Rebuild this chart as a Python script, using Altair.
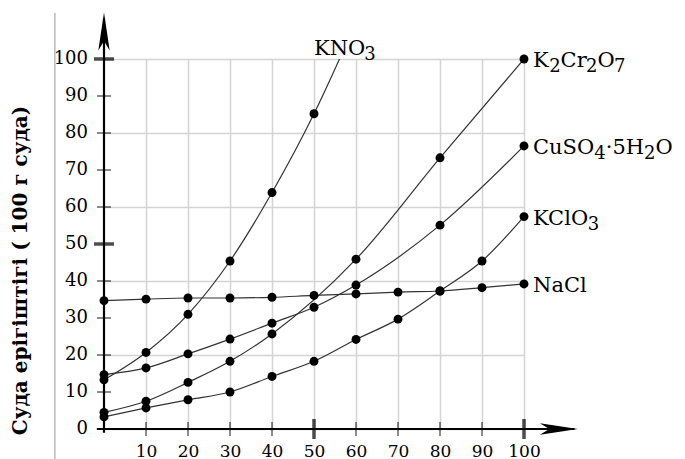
import altair as alt
import pandas as pd

# ---- data ----
temps = [0, 10, 20, 30, 40, 50, 60, 70, 80, 90, 100]
nacl = [34.7, 35.1, 35.4, 35.4, 35.6, 36.1, 36.5, 37.0, 37.3, 38.2, 39.2]
kclo3 = [3.3, 5.7, 7.9, 10.0, 14.2, 18.3, 24.2, 29.7, 37.3, 45.4, 57.4]
cuso4_t = [0, 10, 20, 30, 40, 50, 60, 80, 100]
cuso4 = [14.7, 16.5, 20.3, 24.3, 28.6, 32.9, 38.9, 55.1, 76.5]
k2cr2o7_t = [0, 10, 20, 30, 40, 60, 80, 100]
k2cr2o7 = [4.5, 7.5, 12.6, 18.3, 25.7, 45.9, 73.3, 100.0]
kno3_t = [0, 10, 20, 30, 40, 50, 60]
kno3 = [13.3, 20.7, 31.0, 45.4, 63.9, 85.2, 110.0]

series_names = ["KNO3", "K2Cr2O7", "CuSO4", "KClO3", "NaCl"]
series_t = [kno3_t, k2cr2o7_t, cuso4_t, temps, temps]
series_v = [kno3, k2cr2o7, cuso4, kclo3, nacl]

# label pieces: (text, is_subscript)
label_parts = {
    "K2Cr2O7": [("K", 0), ("2", 1), ("Cr", 0), ("2", 1), ("O", 0), ("7", 1)],
    "CuSO4": [("CuSO", 0), ("4", 1), ("·5H", 0), ("2", 1), ("O", 0)],
    "KClO3": [("KClO", 0), ("3", 1)],
    "NaCl": [("NaCl", 0)],
    "KNO3": [("KNO", 0), ("3", 1)],
}
kno3_label_at = (50, 101)

x_ticks = [10, 20, 30, 40, 50, 60, 70, 80, 90, 100]
y_ticks = [0, 10, 20, 30, 40, 50, 60, 70, 80, 90, 100]
minor_x = [10, 20, 30, 40, 60, 70, 80, 90]
minor_y = [0, 10, 20, 30, 40, 60, 70, 80, 90]
major_ticks = [50, 100]
y_title = "Суда ерігіштігі ( 100 г суда)"

WIDTH, HEIGHT = 420, 370
PX_PER_UNIT = WIDTH / 100.0
SERIF = "DejaVu Serif"
MAIN_SIZE, SUB_SIZE = 21, 18
# approximate advance widths of DejaVu Serif glyphs (in em)
EM = {"K": 0.770, "C": 0.735, "r": 0.478, "O": 0.786, "u": 0.710, "S": 0.687,
      "H": 0.872, "N": 0.837, "a": 0.602, "l": 0.320, "·": 0.318}
DIGIT = 0.636


def text_width(s, size):
    return sum(EM.get(ch, DIGIT if ch.isdigit() else 0.6) for ch in s) * size


rows = []
for name, ts, vs in zip(series_names, series_t, series_v):
    for t, v in zip(ts, vs):
        rows.append({"s": name, "t": t, "v": v})
df = pd.DataFrame(rows)

seg_rows = []
for name, ts, vs in zip(series_names, series_t, series_v):
    if name == "KNO3":
        at, av, start = kno3_label_at[0], kno3_label_at[1], 0.0
    else:
        at, av, start = ts[-1], vs[-1], 9.0
    off = start
    for txt, sub in label_parts[name]:
        size = SUB_SIZE if sub else MAIN_SIZE
        seg_rows.append({"txt": txt, "sub": sub, "t": at + off / PX_PER_UNIT,
                         "v": av, "top": name == "KNO3"})
        off += text_width(txt, size)
seg_df = pd.DataFrame(seg_rows)

xs = alt.Scale(domain=[0, 100], nice=False)
ys = alt.Scale(domain=[0, 100], nice=False)

x_axis = alt.Axis(values=x_ticks, grid=True, domain=False, title=None, ticks=False,
                  gridColor="#d4d4d4", gridWidth=1.5,
                  labelFont=SERIF, labelFontSize=17, labelColor="black",
                  labelPadding=14, labelOverlap=False, labelFlush=False)
y_axis = alt.Axis(values=y_ticks, grid=True, domain=False, title=y_title, ticks=False,
                  labels=False,
                  gridColor="#d4d4d4", gridWidth=1.5,
                  titleFont=SERIF, titleFontSize=20, titleFontWeight="bold",
                  titleColor="black", titleAngle=270, titleX=-84, titleY=211,
                  titleAlign="center", titleBaseline="middle")

base = alt.Chart(df)
lines = base.mark_line(color="#333333", strokeWidth=1.2, interpolate="monotone",
                       clip=True).encode(
    x=alt.X("t:Q", scale=xs, axis=x_axis),
    y=alt.Y("v:Q", scale=ys, axis=y_axis),
    detail="s:N",
)
points = base.transform_filter("datum.v <= 100.5").mark_circle(
    size=80, color="black", opacity=1).encode(x="t:Q", y="v:Q")

# y tick labels
ylab = alt.Chart(pd.DataFrame({"v": y_ticks})).transform_calculate(
    lab="format(datum.v, 'd')").mark_text(
    font=SERIF, fontSize=18, align="right", baseline="middle", dx=-16,
    color="black").encode(x=alt.datum(0), y="v:Q", text="lab:N")

# faint vertical border line at the left (scan frame)
frame = alt.Chart(pd.DataFrame({"fa": [-9], "fb": [112.4]})).mark_rule(
    color="#a8a8a8", strokeWidth=1.2).encode(
    x=alt.datum(-11.7), y=alt.Y("fa:Q"), y2="fb:Q")

# axis lines with arrows
yline = alt.Chart(pd.DataFrame({"t": [0], "v": [-1], "b": [111]})).mark_rule(
    color="black", strokeWidth=2.2).encode(x="t:Q", y="v:Q", y2="b:Q")
xline = alt.Chart(pd.DataFrame({"v": [0], "t": [-1.7], "b": [112]})).mark_rule(
    color="black", strokeWidth=2.2).encode(y="v:Q", x="t:Q", x2="b:Q")
yarrow = alt.Chart(pd.DataFrame({"v": [107.4]})).mark_point(
    shape="M0,-1L0.3,1L0,0.5L-0.3,1Z", filled=True, color="black", size=1444,
    opacity=1).encode(x=alt.datum(0), y="v:Q")
xarrow = alt.Chart(pd.DataFrame({"t": [108.3]})).mark_point(
    shape="M1,0L-1,-0.3L-0.5,0L-1,0.3Z", filled=True, color="black", size=1444,
    opacity=1).encode(x="t:Q", y=alt.datum(0))

yminor = alt.Chart(pd.DataFrame({"v": minor_y})).mark_tick(
    orient="horizontal", color="black", thickness=1.3, size=14).encode(
    x=alt.datum(0), y="v:Q")
xminor = alt.Chart(pd.DataFrame({"t": minor_x})).mark_tick(
    orient="vertical", color="black", thickness=1.3, size=14).encode(
    x="t:Q", y=alt.datum(0))
ymajor = alt.Chart(pd.DataFrame({"v": major_ticks})).mark_tick(
    orient="horizontal", color="black", thickness=3.5, size=20).encode(
    x=alt.datum(0), y="v:Q")
xmajor = alt.Chart(pd.DataFrame({"t": major_ticks})).mark_tick(
    orient="vertical", color="black", thickness=3.5, size=20).encode(
    x="t:Q", y=alt.datum(0))

segs = alt.Chart(seg_df)
enc = dict(x="t:Q", y="v:Q", text="txt:N")
right_main = segs.transform_filter("!datum.top && datum.sub == 0").mark_text(
    font=SERIF, fontSize=MAIN_SIZE, align="left", baseline="alphabetic", dy=8,
    color="black").encode(**enc)
right_sub = segs.transform_filter("!datum.top && datum.sub == 1").mark_text(
    font=SERIF, fontSize=SUB_SIZE, align="left", baseline="alphabetic", dy=13,
    color="black").encode(**enc)
top_main = segs.transform_filter("datum.top && datum.sub == 0").mark_text(
    font=SERIF, fontSize=MAIN_SIZE, align="left", baseline="alphabetic",
    color="black").encode(**enc)
top_sub = segs.transform_filter("datum.top && datum.sub == 1").mark_text(
    font=SERIF, fontSize=SUB_SIZE, align="left", baseline="alphabetic", dy=5,
    color="black").encode(**enc)

chart = alt.layer(lines, yline, xline, yminor, xminor, ymajor, xmajor,
                  yarrow, xarrow, points, ylab, right_main, right_sub, top_main,
                  top_sub, frame).properties(
    width=WIDTH, height=HEIGHT,
    autosize=alt.AutoSizeParams(type="none"),
    padding={"left": 96, "top": 51, "right": 149, "bottom": 30},
).configure_view(stroke=None).configure_axis(labelOverlap=False, labelFlush=False)

chart.save("out.html", embed_options={"renderer": "svg", "actions": False})
